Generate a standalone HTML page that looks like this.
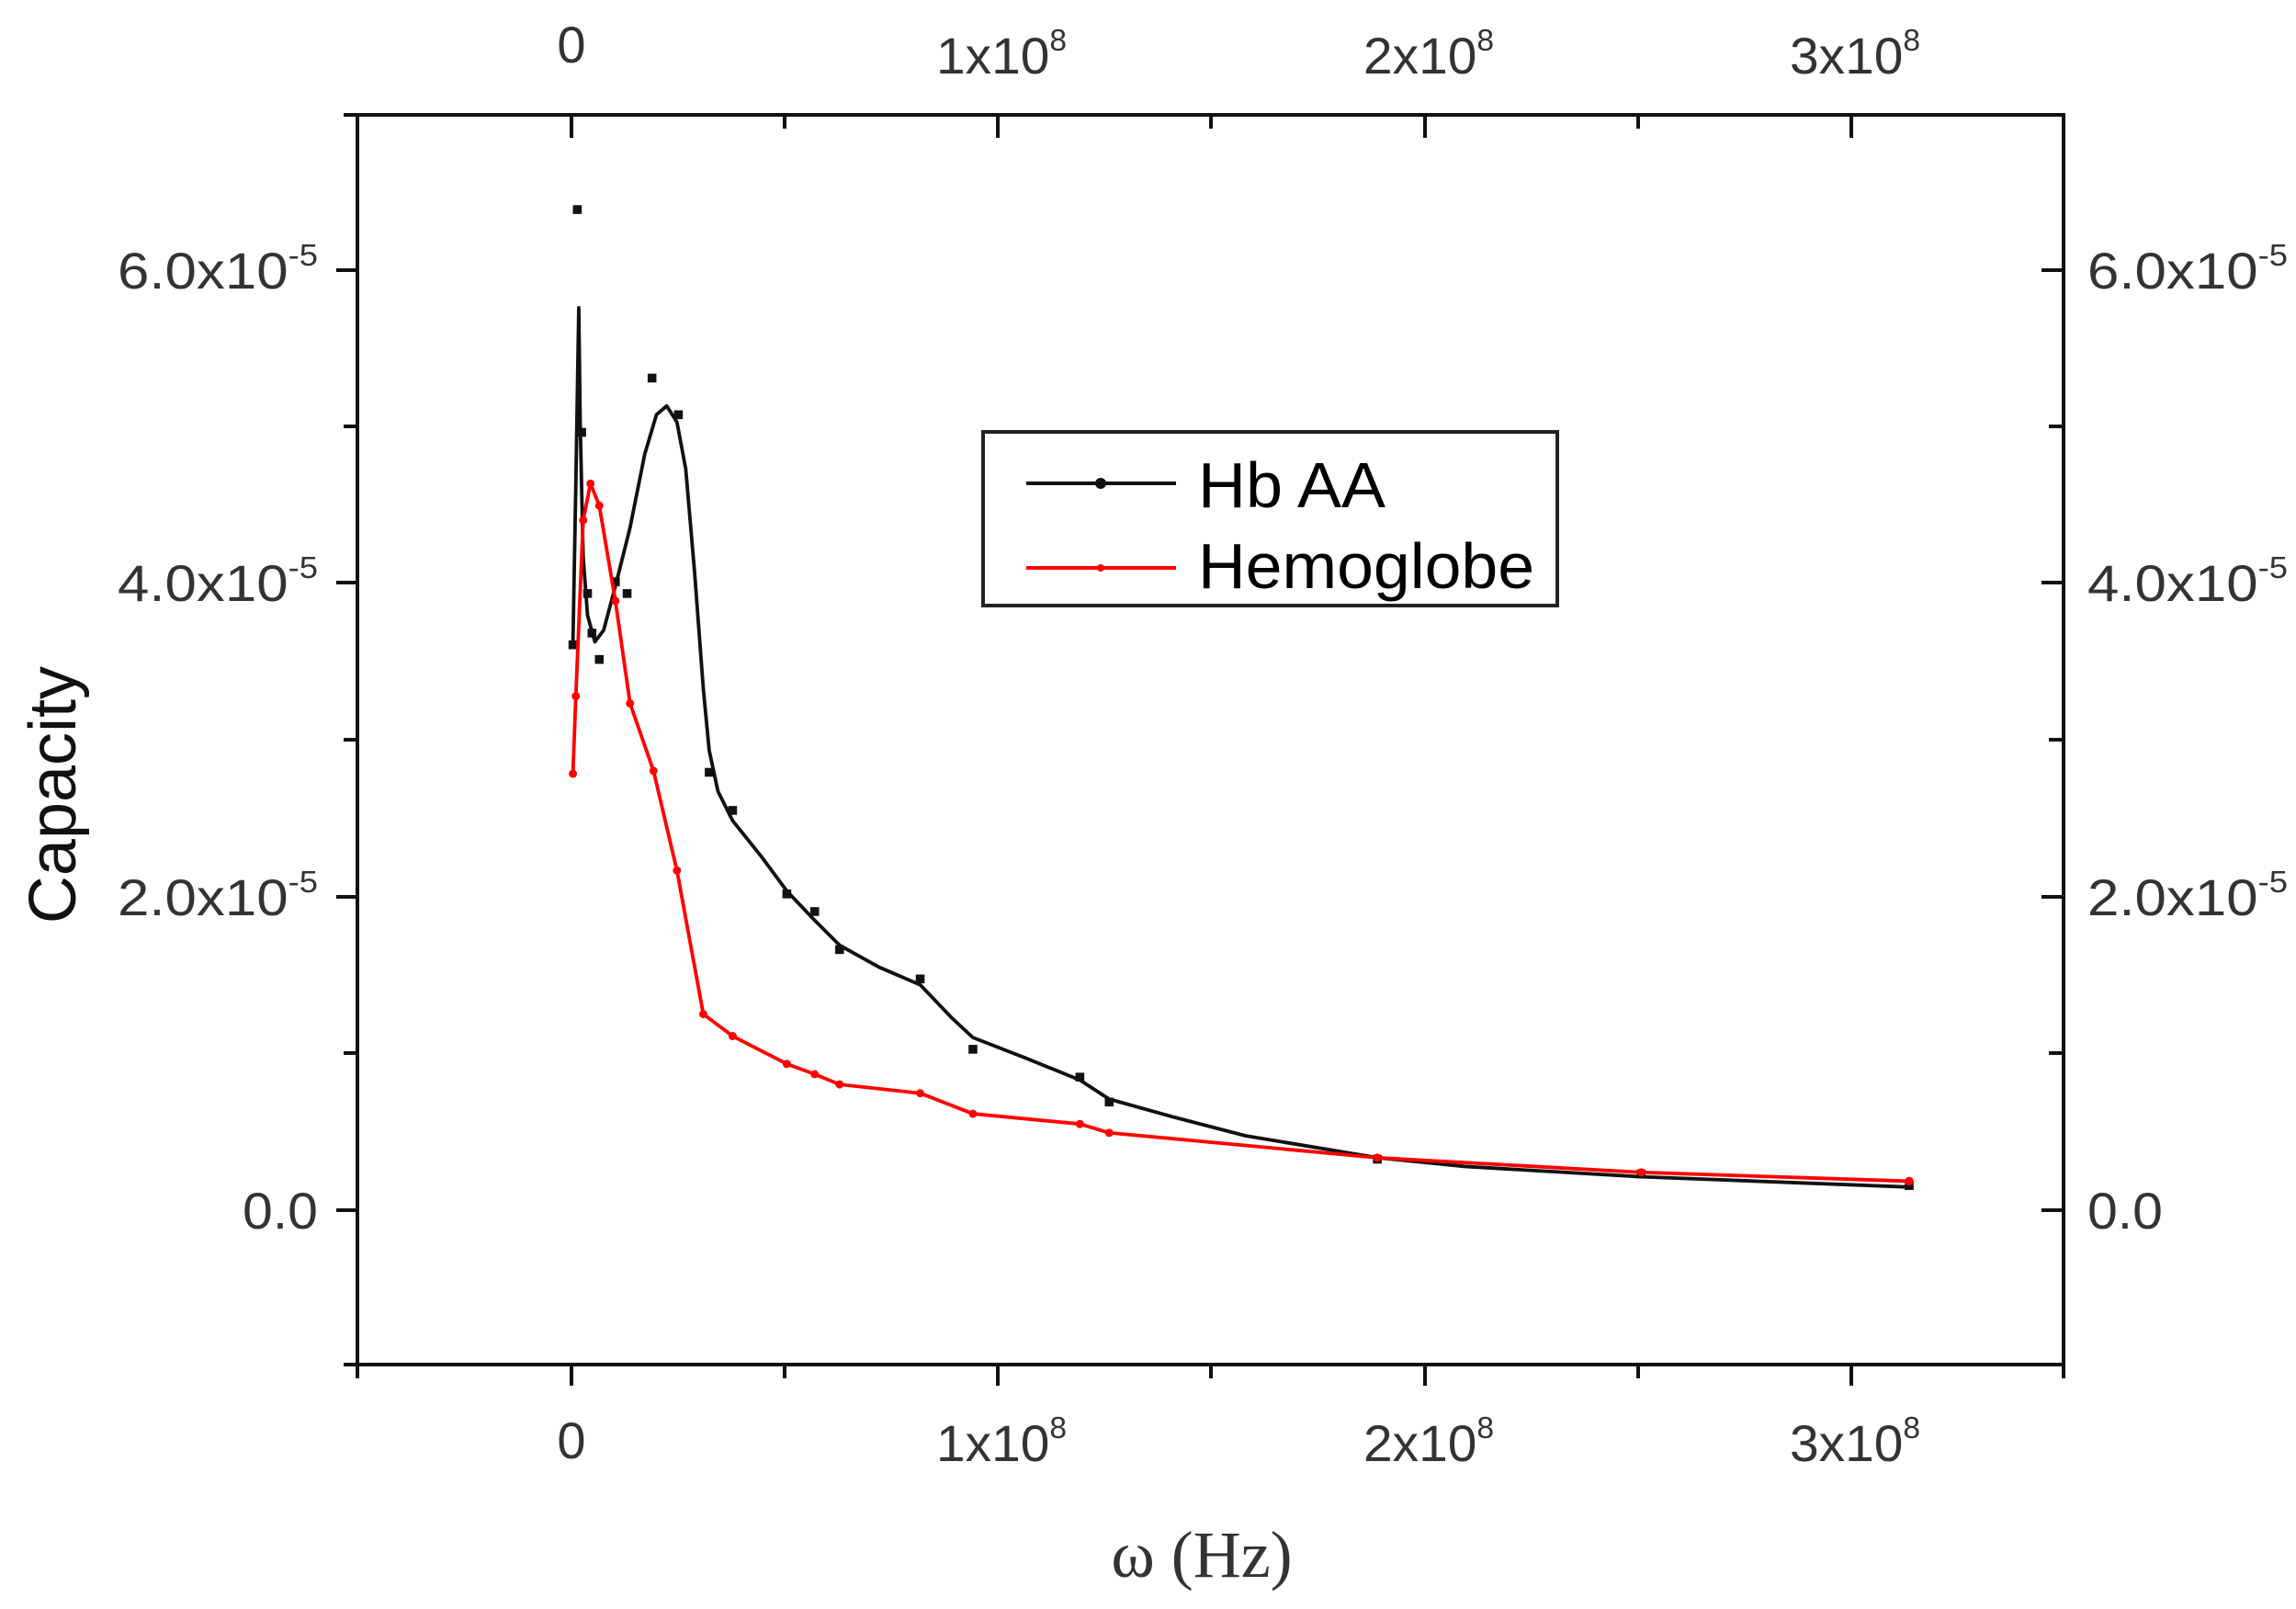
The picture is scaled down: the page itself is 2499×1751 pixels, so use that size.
<!DOCTYPE html>
<html><head><meta charset="utf-8"><style>html,body{margin:0;padding:0;background:#fff}svg{display:block}</style></head>
<body>
<svg width="2499" height="1751" viewBox="0 0 2499 1751" xmlns="http://www.w3.org/2000/svg" font-family="Liberation Sans, Arial, sans-serif">
<rect width="2499" height="1751" fill="#fff"/>
<rect x="389" y="125" width="1857" height="1360" fill="none" stroke="#111" stroke-width="4"/>
<g stroke="#111" stroke-width="4">
<line x1="622" y1="1485" x2="622" y2="1508"/><line x1="854" y1="1485" x2="854" y2="1500"/>
<line x1="1086" y1="1485" x2="1086" y2="1508"/><line x1="1318" y1="1485" x2="1318" y2="1500"/>
<line x1="1551" y1="1485" x2="1551" y2="1508"/><line x1="1783" y1="1485" x2="1783" y2="1500"/>
<line x1="2015" y1="1485" x2="2015" y2="1508"/>
<line x1="2246" y1="1485" x2="2246" y2="1500"/><line x1="389" y1="1485" x2="389" y2="1500"/>
<line x1="622" y1="125" x2="622" y2="150"/><line x1="854" y1="125" x2="854" y2="140"/>
<line x1="1086" y1="125" x2="1086" y2="150"/><line x1="1318" y1="125" x2="1318" y2="140"/>
<line x1="1551" y1="125" x2="1551" y2="150"/><line x1="1783" y1="125" x2="1783" y2="140"/>
<line x1="2015" y1="125" x2="2015" y2="150"/>
<line x1="389" y1="294" x2="366" y2="294"/><line x1="389" y1="464" x2="374" y2="464"/>
<line x1="389" y1="634" x2="366" y2="634"/><line x1="389" y1="805" x2="374" y2="805"/>
<line x1="389" y1="976" x2="366" y2="976"/><line x1="389" y1="1146" x2="374" y2="1146"/>
<line x1="389" y1="1317" x2="366" y2="1317"/><line x1="389" y1="125" x2="374" y2="125"/>
<line x1="389" y1="1485" x2="374" y2="1485"/>
<line x1="2246" y1="294" x2="2222" y2="294"/><line x1="2246" y1="464" x2="2230" y2="464"/>
<line x1="2246" y1="634" x2="2222" y2="634"/><line x1="2246" y1="805" x2="2230" y2="805"/>
<line x1="2246" y1="976" x2="2222" y2="976"/><line x1="2246" y1="1146" x2="2230" y2="1146"/>
<line x1="2246" y1="1317" x2="2222" y2="1317"/>
</g>
<g fill="#333" font-size="56">
<g text-anchor="end">
<text x="346" y="314" textLength="218" lengthAdjust="spacingAndGlyphs">6.0x10<tspan font-size="33" dy="-25">-5</tspan></text>
<text x="346" y="654" textLength="218" lengthAdjust="spacingAndGlyphs">4.0x10<tspan font-size="33" dy="-25">-5</tspan></text>
<text x="346" y="996" textLength="218" lengthAdjust="spacingAndGlyphs">2.0x10<tspan font-size="33" dy="-25">-5</tspan></text>
<text x="346" y="1337" textLength="82" lengthAdjust="spacingAndGlyphs">0.0</text>
</g>
<text x="2272" y="314" textLength="218" lengthAdjust="spacingAndGlyphs">6.0x10<tspan font-size="33" dy="-25">-5</tspan></text>
<text x="2272" y="654" textLength="218" lengthAdjust="spacingAndGlyphs">4.0x10<tspan font-size="33" dy="-25">-5</tspan></text>
<text x="2272" y="996" textLength="218" lengthAdjust="spacingAndGlyphs">2.0x10<tspan font-size="33" dy="-25">-5</tspan></text>
<text x="2272" y="1337" textLength="82" lengthAdjust="spacingAndGlyphs">0.0</text>
<g text-anchor="middle">
<text x="622" y="68">0</text>
<text x="1090" y="80" textLength="142" lengthAdjust="spacingAndGlyphs">1x10<tspan font-size="33" dy="-25">8</tspan></text>
<text x="1555" y="80" textLength="142" lengthAdjust="spacingAndGlyphs">2x10<tspan font-size="33" dy="-25">8</tspan></text>
<text x="2019" y="80" textLength="142" lengthAdjust="spacingAndGlyphs">3x10<tspan font-size="33" dy="-25">8</tspan></text>
<text x="622" y="1587">0</text>
<text x="1090" y="1590" textLength="142" lengthAdjust="spacingAndGlyphs">1x10<tspan font-size="33" dy="-25">8</tspan></text>
<text x="1555" y="1590" textLength="142" lengthAdjust="spacingAndGlyphs">2x10<tspan font-size="33" dy="-25">8</tspan></text>
<text x="2019" y="1590" textLength="142" lengthAdjust="spacingAndGlyphs">3x10<tspan font-size="33" dy="-25">8</tspan></text>
</g>
</g>
<text transform="translate(82,865) rotate(-90)" text-anchor="middle" font-size="72" fill="#111">Capacity</text>
<text x="1308" y="1716" text-anchor="middle" font-size="72" fill="#333" font-family="Liberation Serif, serif">ω (Hz)</text>
<g transform="scale(1.5948)">
<polyline fill="none" stroke="#111" stroke-width="2.4" stroke-linejoin="round" points="391,440 393,330 395,210 396,290 398,380 401,420 406,438 412,430 420,400 430,360 440,310 448,283 455,277 462,288 468,320 474,390 480,470 484,512 490,540 500,560 520,585 537,608 556,628 573,645 600,660 628,672 650,695 664,708 700,722 737,737 757,750 800,762 850,775 940,790 1000,796 1120,803 1303,810"/>
<g fill="#111">
<rect x="388" y="437" width="6" height="6"/><rect x="391" y="140" width="6" height="6"/>
<rect x="394" y="292" width="6" height="6"/><rect x="398" y="402" width="6" height="6"/>
<rect x="401" y="429" width="6" height="6"/><rect x="406" y="447" width="6" height="6"/>
<rect x="417" y="394" width="6" height="6"/><rect x="425" y="402" width="6" height="6"/>
<rect x="442" y="255" width="6" height="6"/><rect x="460" y="280" width="6" height="6"/>
<rect x="481" y="524" width="6" height="6"/><rect x="497" y="550" width="6" height="6"/>
<rect x="534" y="607" width="6" height="6"/><rect x="553" y="619" width="6" height="6"/>
<rect x="570" y="645" width="6" height="6"/><rect x="625" y="665" width="6" height="6"/>
<rect x="661" y="713" width="6" height="6"/><rect x="734" y="732" width="6" height="6"/>
<rect x="754" y="749" width="6" height="6"/><rect x="937" y="788" width="6" height="6"/>
<rect x="1117" y="798" width="6" height="6"/><rect x="1300" y="806" width="6" height="6"/>
</g>
<polyline fill="none" stroke="#f00" stroke-width="2.4" stroke-linejoin="round" points="391,528 393,475 398,355 403,330 409,345 420,410 430,480 446,526 462,594 480,692 500,707 537,726 556,733 573,740 628,746 664,760 737,767 757,773 940,790 1120,800 1303,806"/>
<g fill="#f00">
<circle cx="391" cy="528" r="2.8"/><circle cx="393" cy="475" r="2.8"/><circle cx="398" cy="355" r="2.8"/>
<circle cx="403" cy="330" r="2.8"/><circle cx="409" cy="345" r="2.8"/><circle cx="420" cy="410" r="2.8"/>
<circle cx="430" cy="480" r="2.8"/><circle cx="446" cy="526" r="2.8"/><circle cx="462" cy="594" r="2.8"/>
<circle cx="480" cy="692" r="2.8"/><circle cx="500" cy="707" r="2.8"/><circle cx="537" cy="726" r="2.8"/>
<circle cx="556" cy="733" r="2.8"/><circle cx="573" cy="740" r="2.8"/><circle cx="628" cy="746" r="2.8"/>
<circle cx="664" cy="760" r="2.8"/><circle cx="737" cy="767" r="2.8"/><circle cx="757" cy="773" r="2.8"/>
<circle cx="940" cy="790" r="2.8"/><circle cx="1120" cy="800" r="2.8"/><circle cx="1303" cy="806" r="3"/>
</g>
</g>
<rect x="1070" y="470" width="625" height="189" fill="#fff" stroke="#222" stroke-width="4"/>
<line x1="1117" y1="526" x2="1280" y2="526" stroke="#111" stroke-width="4"/>
<circle cx="1198" cy="526" r="6" fill="#111"/>
<line x1="1117" y1="618" x2="1280" y2="618" stroke="#f00" stroke-width="4"/>
<circle cx="1198" cy="618" r="4" fill="#f00"/>
<text x="1304" y="552" font-size="70" fill="#000" textLength="204" lengthAdjust="spacingAndGlyphs">Hb AA</text>
<text x="1304" y="640" font-size="70" fill="#000" textLength="366" lengthAdjust="spacingAndGlyphs">Hemoglobe</text>
</svg>
</body></html>
